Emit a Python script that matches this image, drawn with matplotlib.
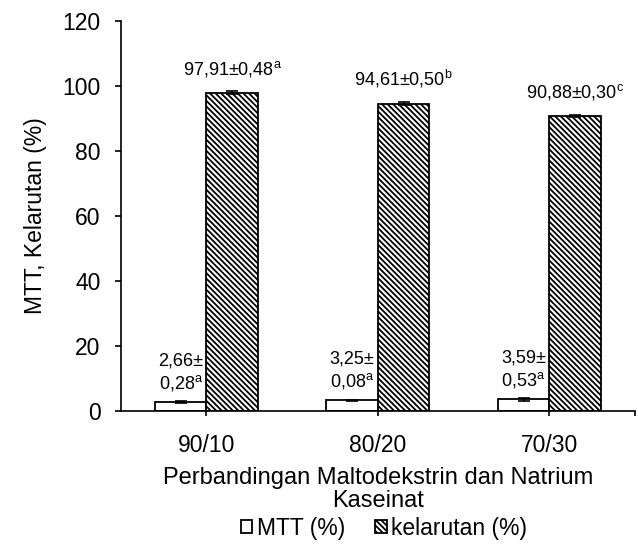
import numpy as np
import matplotlib
matplotlib.use('Agg')
import matplotlib.pyplot as plt
from matplotlib.patches import Patch

# data
categories = ["90/10", "80/20", "70/30"]
mtt = [2.66, 3.25, 3.59]
mtt_err = [0.28, 0.08, 0.53]
mtt_sig = ["a", "a", "a"]
kelarutan = [97.91, 94.61, 90.88]
kelarutan_err = [0.48, 0.50, 0.30]
kelarutan_sig = ["a", "b", "c"]
yticks = [0, 20, 40, 60, 80, 100, 120]

HATCH = "\\" * 6


def fmt(v):
    return f"{v:.2f}".replace(".", ",")


plt.rcParams.update({
    "font.family": ["Liberation Sans", "DejaVu Sans"],
    "mathtext.fontset": "custom",
    "mathtext.rm": "Liberation Sans",
    "mathtext.it": "Liberation Sans",
    "mathtext.default": "regular",
    "hatch.linewidth": 1.3,
    "hatch.color": "black",
})

fig = plt.figure(figsize=(6.38, 5.48), dpi=100)
ax = fig.add_axes([0.1892, 0.25, 0.806, 0.7117])

x = np.arange(len(categories))
w = 0.3

ax.bar(x - w / 2, mtt, width=w, color="white", edgecolor="black",
       linewidth=1.3, zorder=2)
ax.bar(x + w / 2, kelarutan, width=w, color="white", edgecolor="black",
       hatch=HATCH, linewidth=1.3, zorder=2)
ax.errorbar(x - w / 2, mtt, yerr=mtt_err, fmt="none", ecolor="black",
            elinewidth=1.2, capsize=4, capthick=1.2, zorder=3)
ax.errorbar(x + w / 2, kelarutan, yerr=kelarutan_err, fmt="none",
            ecolor="black", elinewidth=1.2, capsize=4, capthick=1.2, zorder=3)

for i in range(len(categories)):
    ax.text(x[i] + w / 2, kelarutan[i] + 4.3,
            f"{fmt(kelarutan[i])}±{fmt(kelarutan_err[i])}$^{{{kelarutan_sig[i]}}}$",
            ha="center", va="bottom", fontsize=13)
    ax.text(x[i] - w / 2, mtt[i] + 3.0,
            f"{fmt(mtt[i])}±\n{fmt(mtt_err[i])}$^{{{mtt_sig[i]}}}$",
            ha="center", va="bottom", fontsize=13, linespacing=1.2)

ax.set_xlim(-0.5, 2.5)
ax.set_ylim(0, 120)
ax.set_yticks(yticks)
ax.set_xticks(list(x) + [2.5])
ax.set_xticklabels(categories + [""])

for s in ["top", "right"]:
    ax.spines[s].set_visible(False)
for s in ["left", "bottom"]:
    ax.spines[s].set_linewidth(1.2)

ax.tick_params(axis="y", direction="out", length=4.5, width=1.2, pad=10,
               labelsize=16.5)
ax.tick_params(axis="x", direction="out", length=3.5, width=1.2, pad=13,
               labelsize=16.5)

ax.set_ylabel("MTT, Kelarutan (%)", fontsize=16.5, labelpad=11)
ax.set_xlabel("Perbandingan Maltodekstrin dan Natrium\nKaseinat",
              fontsize=17, labelpad=7, linespacing=1.1)

handles = [
    Patch(facecolor="white", edgecolor="black", linewidth=1.3),
    Patch(facecolor="white", edgecolor="black", hatch=HATCH, linewidth=1.3),
]
fig.legend(handles, ["MTT (%)", "kelarutan (%)"], loc="center",
           bbox_to_anchor=(0.602, 0.036), ncol=2, frameon=False,
           fontsize=16.5, handlelength=0.5, handleheight=0.5,
           handletextpad=0.2, columnspacing=1.3)

fig.savefig("out.png", dpi=100)
